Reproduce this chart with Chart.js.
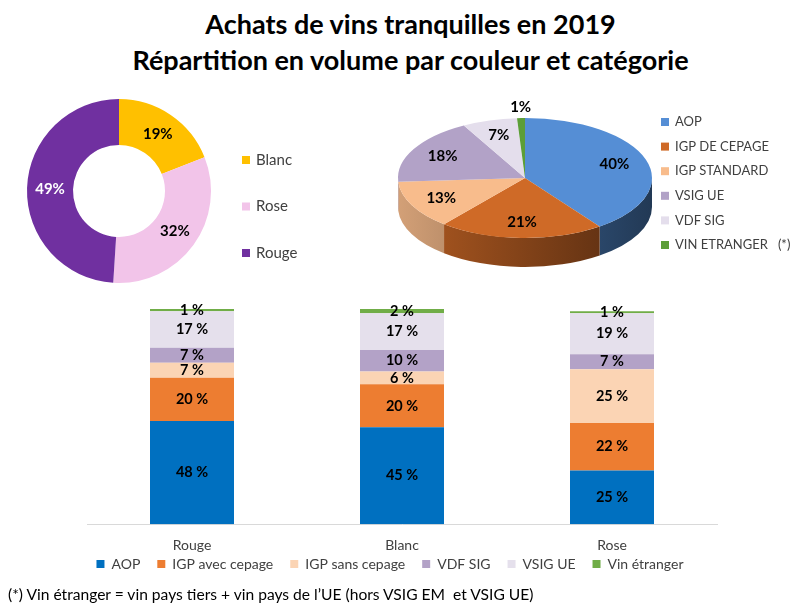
<!DOCTYPE html>
<html lang="fr">
<head>
  <meta charset="UTF-8" />
  <title>Achats de vins tranquilles en 2019</title>
  <script src="https://cdn.jsdelivr.net/npm/chart.js"></script>
  <style>
    body {
      margin: 0;
      width: 791px;
      height: 605px;
      position: relative;
      overflow: hidden;
      background: #fff;
      font-family: Lato, 'Open Sans', sans-serif;
    }

    .title {
      position: absolute;
      left: 15px;
      top: 6px;
      width: 791px;
      text-align: center;
      font-weight: bold;
      font-size: 27px;
      line-height: 36px;
      color: #000;
    }

    canvas { position: absolute; }
    #donut { left: 0; top: 90px; }
    #pie3d { left: 390px; top: 90px; }
    #bars { left: 0; top: 295px; }

    .note {
      position: absolute;
      left: 8px;
      top: 585px;
      font-size: 15.6px;
      line-height: 18px;
      color: #000;
    }
  </style>
</head>
<body>
  <div class="title">Achats de vins tranquilles en 2019<br>Répartition en volume par couleur et catégorie</div>
  <canvas id="donut" width="390" height="200"></canvas>
  <canvas id="pie3d" width="401" height="200"></canvas>
  <canvas id="bars" width="791" height="313"></canvas>
  <div class="note">(*) Vin étranger = vin pays tiers + vin pays de l’UE (hors VSIG EM&nbsp; et VSIG UE)</div>

  <script>
    // parts par couleur de vin
    const couleurs = ['Blanc', 'Rose', 'Rouge'];
    const partsCouleur = [19, 32, 49];

    // parts par catégorie
    const categories = ['AOP', 'IGP DE CEPAGE', 'IGP STANDARD', 'VSIG UE', 'VDF SIG', 'VIN ETRANGER   (*)'];
    const partsCategorie = [40, 21, 13, 18, 7, 1];

    // catégories dans chaque couleur
    const colonnes = ['Rouge', 'Blanc', 'Rose'];
    const aop = [48, 45, 25];
    const igpCepage = [20, 20, 22];
    const igpSansCepage = [7, 6, 25];
    const vdfSig = [7, 10, 7];
    const vsigUe = [17, 17, 19];
    const vinEtranger = [1, 2, 1];

    const FONT = 'Lato, "Open Sans", sans-serif';

    function shade(hex, k) {
      const n = parseInt(hex.slice(1), 16);
      const r = Math.round(((n >> 16) & 255) * k);
      const g = Math.round(((n >> 8) & 255) * k);
      const b = Math.round((n & 255) * k);
      return `rgb(${r},${g},${b})`;
    }

    // legend drawn as a column of squares next to the pie
    const boxLegend = {
      id: 'boxLegend',
      afterDraw(chart, args, o) {
        const ctx = chart.ctx;
        const colors = chart.data.datasets[0].backgroundColor;
        ctx.save();
        ctx.font = o.font;
        ctx.textAlign = 'left';
        ctx.textBaseline = 'middle';
        chart.data.labels.forEach((lab, i) => {
          const y = o.y + i * o.step;
          ctx.fillStyle = colors[i];
          ctx.fillRect(o.x, y - o.box / 2, o.box, o.box);
          ctx.fillStyle = o.color;
          ctx.fillText(lab, o.x + o.box + o.gap, y);
        });
        ctx.restore();
      }
    };

    // percentages in the middle of each ring slice
    const ringLabels = {
      id: 'ringLabels',
      afterDatasetsDraw(chart, args, o) {
        const ctx = chart.ctx;
        const values = chart.data.datasets[0].data;
        ctx.save();
        ctx.font = o.font;
        ctx.textAlign = 'center';
        ctx.textBaseline = 'middle';
        chart.getDatasetMeta(0).data.forEach((arc, i) => {
          const p = arc.tooltipPosition();
          ctx.fillStyle = o.colors[i];
          ctx.fillText(values[i] + '%', p.x, p.y);
        });
        ctx.restore();
      }
    };

    // tilted pie: side wall first, then the top face squashed vertically
    const pie3d = {
      id: 'pie3d',
      beforeDatasetsDraw(chart, args, o) {
        const ctx = chart.ctx;
        const arcs = chart.getDatasetMeta(0).data;
        const colors = chart.data.datasets[0].backgroundColor;
        const { x: cx, y: cy, outerRadius: r } = arcs[0];
        const ry = r * o.tilt;
        arcs.forEach((arc, i) => {
          const a = Math.max(arc.startAngle, 0);
          const b = Math.min(arc.endAngle, Math.PI);
          if (a >= b) return;
          const g = ctx.createLinearGradient(cx - r, 0, cx + r, 0);
          g.addColorStop(0, shade(colors[i], o.light));
          g.addColorStop(1, shade(colors[i], o.dark));
          ctx.beginPath();
          ctx.ellipse(cx, cy, r, ry, 0, a, b);
          ctx.ellipse(cx, cy + o.depth, r, ry, 0, b, a, true);
          ctx.closePath();
          ctx.fillStyle = g;
          ctx.fill();
        });
        ctx.save();
        ctx.translate(0, cy);
        ctx.scale(1, o.tilt);
        ctx.translate(0, -cy);
      },
      afterDatasetsDraw(chart, args, o) {
        const ctx = chart.ctx;
        ctx.restore();
        const arcs = chart.getDatasetMeta(0).data;
        const values = chart.data.datasets[0].data;
        const { x: cx, y: cy, outerRadius: r } = arcs[0];
        const ry = r * o.tilt;
        ctx.save();
        ctx.font = o.font;
        ctx.fillStyle = '#000';
        ctx.textAlign = 'center';
        ctx.textBaseline = 'middle';
        arcs.forEach((arc, i) => {
          const mid = (arc.startAngle + arc.endAngle) / 2;
          let x, y;
          if (values[i] < 3) {
            x = cx + (r + 12) * Math.cos(mid);
            y = cy + (ry + 11) * Math.sin(mid);
          } else {
            x = cx + o.labelRadius * r * Math.cos(mid);
            y = cy + o.labelRadius * ry * Math.sin(mid);
          }
          ctx.fillText(values[i] + '%', x, y);
        });
        ctx.restore();
      }
    };

    // percentages inside each stacked segment
    const barLabels = {
      id: 'barLabels',
      afterDatasetsDraw(chart, args, o) {
        const ctx = chart.ctx;
        ctx.save();
        ctx.font = o.font;
        ctx.fillStyle = o.color;
        ctx.textAlign = 'center';
        ctx.textBaseline = 'middle';
        chart.data.datasets.forEach((ds, d) => {
          chart.getDatasetMeta(d).data.forEach((bar, i) => {
            ctx.fillText(ds.data[i] + ' %', bar.x, (bar.y + bar.base) / 2);
          });
        });
        ctx.restore();
      }
    };

    // pull the bottom legend closer to the axis labels
    const legendShift = {
      id: 'legendShift',
      afterLayout(chart, args, o) {
        chart.legend.top += o.dy;
        chart.legend.bottom += o.dy;
        chart.legend.left += o.dx;
        chart.legend.right += o.dx;
      }
    };

    new Chart(document.getElementById('donut'), {
      type: 'doughnut',
      data: {
        labels: couleurs,
        datasets: [{
          data: partsCouleur,
          backgroundColor: ['#FFC000', '#F2C4E9', '#7030A0'],
          borderWidth: 0
        }]
      },
      options: {
        responsive: false,
        animation: false,
        cutout: '50%',
        layout: { padding: { left: 27, top: 9, right: 179, bottom: 7 } },
        plugins: {
          legend: { display: false },
          tooltip: { enabled: false },
          boxLegend: { x: 242, y: 70, step: 46.5, box: 8, gap: 6, font: '15px ' + FONT, color: '#404040' },
          ringLabels: { colors: ['#000', '#000', '#fff'], font: 'bold 15px ' + FONT }
        }
      },
      plugins: [ringLabels, boxLegend]
    });

    new Chart(document.getElementById('pie3d'), {
      type: 'pie',
      data: {
        labels: categories,
        datasets: [{
          data: partsCategorie,
          backgroundColor: ['#558ED5', '#CF6A27', '#F8BC8C', '#B2A2C7', '#E4DEEC', '#5C9E38'],
          borderWidth: 0,
          clip: false
        }]
      },
      options: {
        responsive: false,
        animation: false,
        radius: 127,
        layout: { padding: { left: 8, top: 0, right: 139, bottom: 24 } },
        plugins: {
          legend: { display: false },
          tooltip: { enabled: false },
          pie3d: { tilt: 0.472, depth: 29, light: 0.85, dark: 0.4, labelRadius: 0.74, font: 'bold 15px ' + FONT },
          boxLegend: { x: 271, y: 32, step: 24.6, box: 8, gap: 6, font: '13px ' + FONT, color: '#404040' }
        }
      },
      plugins: [pie3d, boxLegend]
    });

    new Chart(document.getElementById('bars'), {
      type: 'bar',
      data: {
        labels: colonnes,
        datasets: [
          { label: 'AOP', data: aop, backgroundColor: '#0070C0' },
          { label: 'IGP avec cepage', data: igpCepage, backgroundColor: '#ED7D31' },
          { label: 'IGP sans cepage', data: igpSansCepage, backgroundColor: '#FBD4B4' },
          { label: 'VDF SIG', data: vdfSig, backgroundColor: '#B3A2C7' },
          { label: 'VSIG UE', data: vsigUe, backgroundColor: '#E5E0EC' },
          { label: 'Vin étranger', data: vinEtranger, backgroundColor: '#70AD47' }
        ]
      },
      options: {
        responsive: false,
        animation: false,
        datasets: { bar: { categoryPercentage: 1, barPercentage: 0.4, borderWidth: 0 } },
        layout: { padding: { left: 87, right: 74, top: 14 } },
        scales: {
          x: {
            stacked: true,
            grid: { display: false, drawTicks: false },
            border: { color: '#D9D9D9' },
            ticks: { color: '#404040', padding: 13, font: { size: 14, family: FONT } }
          },
          y: { stacked: true, display: false, min: 0, max: 100 }
        },
        plugins: {
          legend: {
            position: 'bottom',
            labels: { boxWidth: 8, boxHeight: 8, padding: 17, color: '#404040', font: { size: 14, family: FONT } }
          },
          tooltip: { enabled: false },
          barLabels: { font: 'bold 14.5px ' + FONT, color: '#000' },
          legendShift: { dx: -12, dy: -27 }
        }
      },
      plugins: [barLabels, legendShift]
    });
  </script>
</body>
</html>
